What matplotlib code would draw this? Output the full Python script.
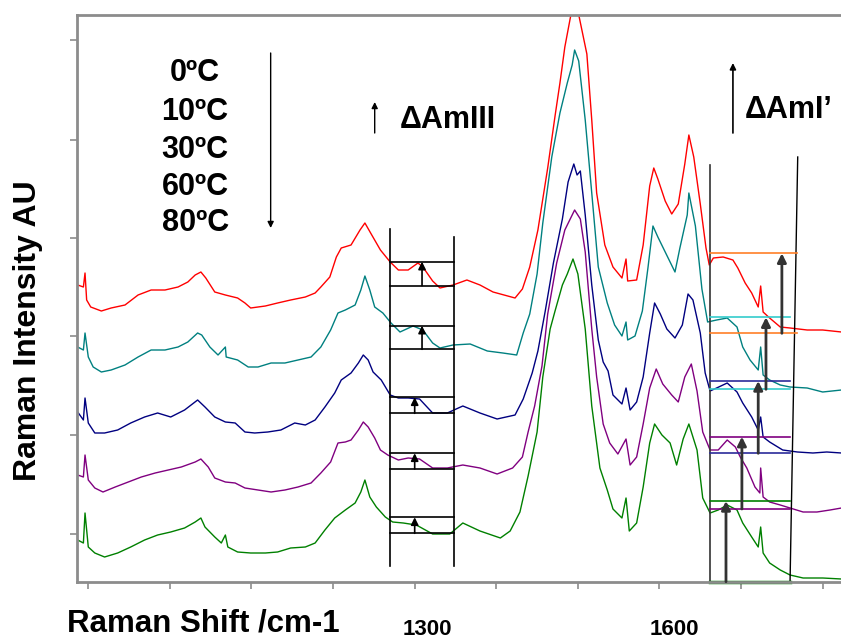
import matplotlib
matplotlib.use("Agg")
import matplotlib.pyplot as plt

plt.rcParams['font.family'] = ['Liberation Sans', 'DejaVu Sans']

# ---------------- data (Raman shift cm-1, intensity AU) ----------------
red_x = [887, 894, 896, 898, 903, 916, 928, 945, 961, 977, 994, 1010, 1022, 1031, 1038, 1044, 1055, 1068, 1083,
         1092, 1099, 1117, 1132, 1148, 1166, 1178, 1185, 1196, 1204, 1210, 1222, 1233, 1239, 1246, 1258, 1270,
         1280, 1292, 1304, 1310, 1322, 1331, 1347, 1364, 1380, 1396, 1423, 1432, 1441, 1451, 1463, 1472, 1478,
         1484, 1496, 1511, 1517, 1523, 1533, 1543, 1554, 1559, 1561, 1572, 1580, 1588, 1593, 1598, 1607, 1615,
         1623, 1631, 1636, 1642, 1650, 1657, 1661, 1666, 1678, 1690, 1696, 1705, 1713, 1721, 1724, 1727, 1735,
         1748, 1760, 1781, 1800, 1823]
red_y = [315, 313, 327, 300, 293, 289, 292, 295, 305, 310, 310, 313, 318, 325, 328, 322, 308, 305, 302,
         297, 292, 294, 297, 300, 303, 307, 313, 323, 343, 352, 355, 370, 377, 367, 350, 338,
         330, 330, 337, 333, 319, 312, 315, 320, 315, 308, 302, 311, 333, 370, 432, 484, 517,
         553, 605, 546, 480, 407, 355, 333, 322, 341, 319, 320, 355, 414, 432, 421, 399, 386,
         396, 436, 465, 443, 396, 352, 335, 342, 343, 340, 332, 317, 307, 293, 314, 288, 282,
         273, 272, 270, 270, 268]

teal_x = [887, 894, 896, 900, 906, 916, 928, 945, 961, 977, 994, 1010, 1022, 1034, 1039, 1049, 1059, 1068, 1069,
          1083, 1096, 1108, 1124, 1141, 1157, 1173, 1185, 1197, 1206, 1215, 1227, 1234, 1239, 1245, 1251, 1261,
          1271, 1282, 1298, 1310, 1322, 1331, 1347, 1368, 1389, 1408, 1425, 1433, 1441, 1450, 1457, 1468, 1478,
          1487, 1493, 1496, 1501, 1509, 1517, 1525, 1536, 1545, 1554, 1559, 1561, 1570, 1579, 1586, 1592, 1598,
          1607, 1619, 1625, 1634, 1636, 1644, 1652, 1659, 1670, 1683, 1695, 1702, 1711, 1721, 1724, 1727, 1735,
          1748, 1760, 1781, 1800, 1823]
teal_y = [253, 250, 267, 243, 233, 228, 230, 235, 243, 250, 250, 253, 258, 267, 265, 253, 245, 253, 243,
          240, 233, 233, 237, 237, 240, 243, 253, 270, 287, 290, 295, 310, 324, 310, 293, 287,
          277, 268, 274, 270, 257, 252, 255, 256, 249, 247, 245, 267, 286, 326, 377, 443, 487,
          517, 535, 550, 539, 480, 407, 333, 297, 275, 264, 278, 260, 264, 289, 333, 374, 363,
          348, 328, 352, 385, 407, 374, 311, 278, 280, 282, 273, 253, 240, 230, 253, 225, 220,
          215, 213, 212, 208, 210]

navy_x = [887, 894, 896, 900, 908, 920, 936, 952, 969, 985, 1001, 1018, 1034, 1043, 1055, 1068, 1080, 1092, 1104,
          1120, 1136, 1153, 1166, 1178, 1190, 1202, 1210, 1222, 1231, 1237, 1243, 1249, 1259, 1270, 1280, 1292,
          1306, 1322, 1340, 1359, 1380, 1401, 1423, 1433, 1444, 1451, 1460, 1470, 1481, 1488, 1495, 1499, 1503,
          1509, 1517, 1525, 1531, 1537, 1543, 1554, 1559, 1564, 1572, 1580, 1588, 1594, 1601, 1609, 1619, 1628,
          1635, 1641, 1650, 1656, 1662, 1670, 1683, 1695, 1702, 1713, 1721, 1724, 1727, 1735, 1751, 1769, 1788,
          1805, 1823]
navy_y = [188, 180, 202, 177, 167, 167, 170, 177, 183, 187, 183, 190, 200, 193, 183, 178, 177, 168, 167,
          168, 170, 177, 175, 180, 193, 207, 220, 227, 237, 245, 240, 228, 220, 205, 202, 202,
          201, 187, 187, 194, 187, 181, 185, 201, 227, 249, 289, 337, 381, 418, 436, 425, 429,
          385, 315, 260, 238, 229, 205, 196, 212, 190, 198, 223, 267, 297, 286, 271, 262, 275,
          306, 300, 267, 227, 209, 212, 217, 208, 197, 183, 170, 183, 163, 158, 150, 148, 147,
          148, 147]

purple_x = [887, 894, 896, 900, 908, 918, 933, 949, 965, 982, 998, 1014, 1031, 1038, 1047, 1055, 1068, 1080, 1092,
            1108, 1124, 1141, 1157, 1173, 1185, 1197, 1206, 1215, 1222, 1231, 1237, 1243, 1251, 1258, 1267, 1280,
            1292, 1306, 1322, 1340, 1359, 1380, 1401, 1420, 1432, 1439, 1447, 1456, 1463, 1474, 1484, 1493, 1496,
            1503, 1509, 1517, 1523, 1531, 1539, 1549, 1559, 1564, 1572, 1580, 1588, 1596, 1604, 1615, 1623, 1631,
            1639, 1646, 1653, 1662, 1672, 1683, 1693, 1699, 1707, 1717, 1723, 1724, 1727, 1735, 1748, 1760, 1776,
            1793, 1809, 1823]
purple_y = [125, 123, 145, 120, 112, 108, 113, 118, 123, 127, 130, 133, 138, 141, 133, 122, 118, 117, 112,
            110, 108, 110, 113, 117, 127, 138, 157, 158, 160, 170, 178, 173, 162, 150, 145, 140,
            142, 141, 132, 132, 135, 132, 126, 132, 143, 168, 194, 234, 286, 337, 370, 385, 390,
            381, 348, 271, 223, 176, 157, 146, 161, 135, 143, 176, 212, 231, 216, 205, 198, 223,
            236, 209, 168, 150, 150, 160, 153, 143, 132, 113, 107, 132, 103, 98, 95, 92, 88,
            88, 90, 92]

green_x = [887, 894, 896, 900, 908, 920, 936, 952, 969, 985, 1001, 1018, 1031, 1038, 1043, 1055, 1063, 1068, 1071,
           1083, 1099, 1117, 1132, 1148, 1166, 1178, 1190, 1202, 1215, 1227, 1234, 1239, 1245, 1253, 1264, 1273,
           1286, 1302, 1322, 1343, 1359, 1380, 1405, 1417, 1429, 1439, 1450, 1457, 1466, 1472, 1481, 1487, 1494,
           1500, 1509, 1517, 1527, 1536, 1543, 1554, 1559, 1563, 1572, 1580, 1588, 1594, 1603, 1613, 1621, 1629,
           1636, 1646, 1653, 1662, 1672, 1683, 1695, 1702, 1713, 1721, 1724, 1727, 1735, 1748, 1760, 1776, 1800,
           1823]
green_y = [60, 57, 87, 53, 47, 43, 47, 53, 60, 65, 68, 72, 78, 82, 73, 63, 57, 65, 53,
           48, 47, 47, 48, 52, 53, 57, 70, 82, 90, 97, 108, 120, 103, 93, 83, 78,
           77, 75, 66, 66, 77, 69, 62, 69, 88, 124, 168, 223, 271, 289, 315, 326, 341,
           326, 271, 194, 132, 110, 91, 82, 102, 69, 77, 113, 157, 176, 165, 157, 135, 161,
           176, 150, 102, 87, 90, 95, 90, 77, 63, 53, 73, 47, 37, 30, 25, 22, 22,
           21]

series = [(red_x, red_y, '#ff0000'), (teal_x, teal_y, '#008080'), (navy_x, navy_y, '#000080'),
          (purple_x, purple_y, '#800080'), (green_x, green_y, '#008000')]

temp_labels = ['0\u00baC', '10\u00baC', '30\u00baC', '60\u00baC', '80\u00baC']
temp_label_y = [527, 488, 450, 413, 377]

x_ticks = [900, 1000, 1100, 1200, 1300, 1400, 1500, 1600, 1700, 1800]
y_ticks = [66.5, 165.4, 263.5, 361.5, 460.4, 559.6]
shown_tick_labels = ['1300', '1600']
shown_tick_pos = [1315, 1618]

# Amide III box: (lower, upper, arrow x) per spectrum
am3_levels = [(314.3, 338.3, 1309), (250.7, 274.3, 1309), (186.7, 202.7, 1300),
              (131.0, 146.7, 1300), (66.7, 82.7, 1300)]
am3_left, am3_right = 1270, 1348

# Amide I' box: (lower, upper, arrow x, right end, colour)
am1_levels = [(266.7, 346.7, 1750, 1769, '#ff7f27'), (210.7, 282.7, 1730.5, 1760, '#33cccc'),
              (146.7, 219.0, 1721, 1760, '#2b2b99'), (91.0, 163.3, 1701, 1760, '#800080'),
              (18.3, 99.0, 1681.5, 1760, '#008000')]
am1_left = 1662

# ---------------- figure ----------------
fig = plt.figure(figsize=(8.41, 6.39), dpi=100)
ax = fig.add_axes([0.0912, 0.0892, 0.9433, 0.8878])
ax.set_xlim(885.8, 1858)
ax.set_ylim(18, 585.3)

for xs, ys, c in series:
    ax.plot(xs, ys, color=c, lw=1.0)

for s in ax.spines.values():
    s.set_color('#8c8c8c')
    s.set_linewidth(2.0)

ax.set_xticks(x_ticks)
ax.set_xticklabels([''] * len(x_ticks))
ax.set_yticks(y_ticks)
ax.set_yticklabels([''] * len(y_ticks))
ax.tick_params(direction='out', length=5, width=1.2, color='#8c8c8c')

for lab, xp in zip(shown_tick_labels, shown_tick_pos):
    ax.text(xp, -0.093, lab, transform=ax.get_xaxis_transform(), ha='center', va='baseline',
            fontsize=16, fontweight='bold', clip_on=False)

# temperature labels and arrow
for lab, yy in zip(temp_labels, temp_label_y):
    ax.text(1031, yy, lab, ha='center', va='center', fontsize=22, fontweight='bold')
ax.annotate('', xy=(1123.5, 372), xytext=(1123.5, 547),
            arrowprops=dict(arrowstyle='-|>', color='k', lw=1.0, mutation_scale=9, shrinkA=0, shrinkB=0))

# Delta Am III label
ax.annotate('', xy=(1251, 498), xytext=(1251, 467),
            arrowprops=dict(arrowstyle='-|>', color='k', lw=1.0, mutation_scale=9, shrinkA=0, shrinkB=0))
ax.text(1282, 480, '\u0394AmIII', ha='left', va='center', fontsize=22, fontweight='bold')

# Delta Am I' label
ax.annotate('', xy=(1690, 537), xytext=(1690, 467),
            arrowprops=dict(arrowstyle='-|>', color='k', lw=1.2, mutation_scale=9, shrinkA=0, shrinkB=0))
ax.text(1705, 490, '\u0394AmI\u2019', ha='left', va='center', fontsize=22, fontweight='bold')

# Amide III box
ax.plot([am3_left, am3_left], [34, 371], color='k', lw=1.2)
ax.plot([am3_right, am3_right], [34, 363], color='k', lw=1.2)
for lo, hi, xa in am3_levels:
    ax.plot([am3_left, am3_right], [lo, lo], color='k', lw=1.2)
    ax.plot([am3_left, am3_right], [hi, hi], color='k', lw=1.2)
    ax.annotate('', xy=(xa, hi), xytext=(xa, lo),
                arrowprops=dict(arrowstyle='-|>', color='k', lw=1.2, mutation_scale=11, shrinkA=0, shrinkB=0))

# Amide I' box
ax.plot([am1_left, am1_left], [18, 435], color='#333333', lw=1.2)
ax.plot([1769.4, 1760], [443, 18], color='k', lw=1.0)
for lo, hi, xa, xr, c in am1_levels:
    lw_lo = 2.5 if lo < 20 else 1.2
    ax.plot([am1_left, xr], [lo, lo], color=c, lw=lw_lo, clip_on=False)
    ax.plot([am1_left, xr], [hi, hi], color=c, lw=1.2)
    ax.annotate('', xy=(xa, hi), xytext=(xa, lo),
                arrowprops=dict(arrowstyle='-|>', color='#333333', lw=2.0, mutation_scale=13,
                                shrinkA=0, shrinkB=0))

# axis titles
fig.text(0.033, 0.482, 'Raman Intensity AU', rotation=90, ha='center', va='center',
         fontsize=23, fontweight='bold')
fig.text(0.0797, 0.012, 'Raman Shift /cm-1', ha='left', va='baseline', fontsize=22.5, fontweight='bold')

fig.savefig('out.png', dpi=100)
